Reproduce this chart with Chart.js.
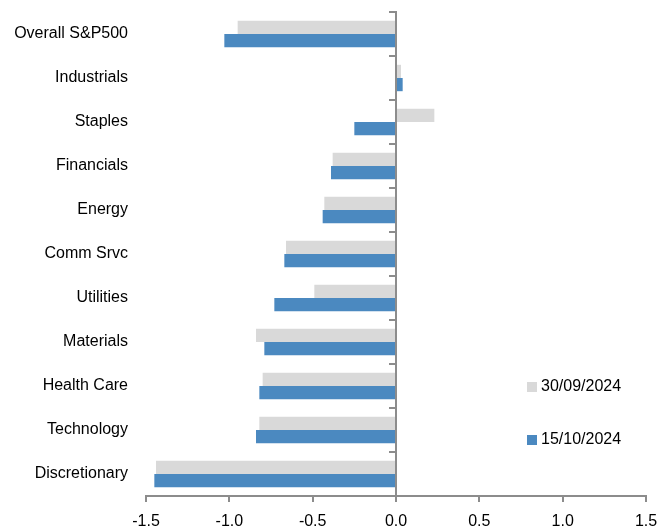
<!DOCTYPE html>
<html>
<head>
<meta charset="utf-8">
<script src="https://cdn.jsdelivr.net/npm/chart.js@4/dist/chart.umd.min.js"></script>
<style>
  html, body { margin: 0; padding: 0; background: #fff; }
  #wrap { width: 671px; height: 529px; }
</style>
</head>
<body>
<div id="wrap"><canvas id="sectors"></canvas></div>
<script>
var sectors = ['Overall S&P500', 'Industrials', 'Staples', 'Financials', 'Energy', 'Comm Srvc',
  'Utilities', 'Materials', 'Health Care', 'Technology', 'Discretionary'];
var sep30 = [-0.95, 0.03, 0.23, -0.38, -0.43, -0.66, -0.49, -0.84, -0.80, -0.82, -1.44];
var oct15 = [-1.03, 0.04, -0.25, -0.39, -0.44, -0.67, -0.73, -0.79, -0.82, -0.84, -1.45];
var xTicks = [-1.5, -1.0, -0.5, 0.0, 0.5, 1.0, 1.5];

var axisGrey = '#8c8c8c';
var font = { family: 'Liberation Sans, Arial, sans-serif', size: 16 };

// legend drawn inside the plot, bottom right, like the original
var sideLegend = {
  id: 'sideLegend',
  afterDraw: function(chart) {
    var ctx = chart.ctx;
    var sets = chart.data.datasets;
    var rows = [387, 440];
    ctx.save();
    ctx.font = '16px ' + font.family;
    ctx.textBaseline = 'middle';
    for (var i = 0; i < sets.length; i++) {
      ctx.fillStyle = sets[i].backgroundColor;
      ctx.fillRect(527, rows[i] - 5, 10, 10);
      ctx.fillStyle = '#000';
      ctx.fillText(sets[i].label, 541, rows[i]);
    }
    ctx.restore();
  }
};

var chart = new Chart(document.getElementById('sectors').getContext('2d'), {
  type: 'bar',
  data: {
    labels: sectors,
    datasets: [{
      label: '30/09/2024',
      data: sep30,
      backgroundColor: '#d9d9d9',
      categoryPercentage: 0.6,
      barPercentage: 1.0
    }, {
      label: '15/10/2024',
      data: oct15,
      backgroundColor: '#4b89c0',
      categoryPercentage: 0.6,
      barPercentage: 1.0
    }]
  },
  plugins: [sideLegend],
  options: {
    indexAxis: 'y',
    responsive: true,
    maintainAspectRatio: false,
    animation: false,
    layout: { padding: { top: 12, left: 12, right: 25, bottom: 0 } },
    plugins: {
      legend: { display: false },
      tooltip: { enabled: false }
    },
    scales: {
      x: {
        min: -1.5,
        max: 1.5,
        afterBuildTicks: function(axis) {
          axis.ticks = xTicks.map(function(v) { return { value: v }; });
        },
        grid: { drawOnChartArea: false, color: axisGrey, tickLength: 6, lineWidth: 2 },
        border: { color: axisGrey, width: 2 },
        ticks: {
          color: '#000',
          font: font,
          padding: 10,
          maxRotation: 0,
          callback: function(v) { return Number(v).toFixed(1); }
        },
        afterFit: function(axis) { axis.height = 33; }
      },
      y: {
        position: { x: 0 },
        offset: true,
        grid: { offset: true, drawOnChartArea: false, color: axisGrey, tickLength: 6, lineWidth: 2 },
        border: { color: axisGrey, width: 2 },
        ticks: { display: false }
      },
      yNames: {
        type: 'category',
        axis: 'y',
        position: 'left',
        offset: true,
        grid: { display: false, drawTicks: false },
        border: { display: false },
        ticks: { color: '#000', font: font, padding: 18 },
        afterFit: function(axis) {
          axis.width = 134;
          axis.paddingTop = 0;
          axis.paddingBottom = 0;
        }
      }
    }
  }
});
</script>
</body>
</html>
